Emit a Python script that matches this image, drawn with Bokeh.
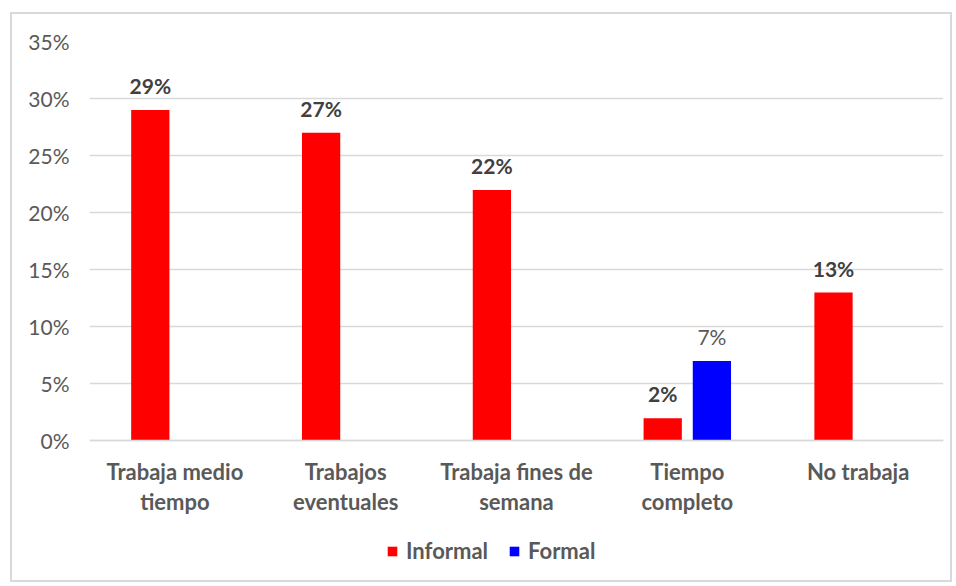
from bokeh.plotting import figure
from bokeh.models import ColumnDataSource, FactorRange, Range1d, Legend, LegendItem, PrintfTickFormatter, FixedTicker
from bokeh.transform import dodge
from bokeh.core.properties import value
from bokeh.embed import file_html
from bokeh.resources import INLINE

categories = ["Trabaja medio\ntiempo", "Trabajos\neventuales", "Trabaja fines de\nsemana", "Tiempo\ncompleto", "No trabaja"]
informal = [29, 27, 22, 2, 13]
formal = [0, 0, 0, 7, 0]
y_ticks = [0, 5, 10, 15, 20, 25, 30, 35]

FONT = "Lato"
GRAY = "#595959"
FS = "21px"

inf_src = ColumnDataSource(dict(cat=categories, val=informal, lab=[f"{v}%" for v in informal]))
fcats = [c for c, v in zip(categories, formal) if v > 0]
fvals = [v for v in formal if v > 0]
for_src = ColumnDataSource(dict(cat=fcats, val=fvals, lab=[f"{v}%" for v in fvals]))

# extra room below zero holds the category labels and the legend
p = figure(x_range=FactorRange(*categories), y_range=Range1d(-12.4, 35),
           width=942, height=570, output_backend="svg", toolbar_location=None,
           min_border_left=77, min_border_right=11, min_border_top=27, min_border_bottom=2)
p.styles = {"border": "2px solid #d9d9d9", "box-sizing": "border-box",
            "position": "relative", "left": "10px", "top": "12px"}
p.outline_line_color = None

off = 0.144
bw = 0.224
r1 = p.vbar(x=dodge("cat", -off, range=p.x_range), top="val", width=bw, source=inf_src,
            fill_color="#ff0000", line_color=None)
r2 = p.vbar(x=dodge("cat", off, range=p.x_range), top="val", width=bw, source=for_src,
            fill_color="#0000ff", line_color=None)

p.text(x=dodge("cat", -off, range=p.x_range), y="val", text="lab", source=inf_src,
       text_align="center", text_baseline="bottom", y_offset=-12,
       text_font=value(FONT), text_font_size=FS, text_font_style="bold", text_color="#404040")
p.text(x=dodge("cat", off, range=p.x_range), y="val", text="lab", source=for_src,
       text_align="center", text_baseline="bottom", y_offset=-12,
       text_font=value(FONT), text_font_size=FS, text_color=GRAY)

p.xgrid.grid_line_color = None
p.ygrid.grid_line_color = "#d9d9d9"
p.ygrid.grid_line_width = 1.5
p.ygrid.ticker = FixedTicker(ticks=y_ticks)

p.yaxis.ticker = FixedTicker(ticks=y_ticks)
p.yaxis.formatter = PrintfTickFormatter(format="%d%%")
p.yaxis.axis_line_color = None
p.yaxis.major_tick_line_color = None
p.yaxis.minor_tick_line_color = None
p.yaxis.major_label_standoff = 14
p.yaxis.major_label_text_font = FONT
p.yaxis.major_label_text_font_size = FS
p.yaxis.major_label_text_color = GRAY

p.xaxis.fixed_location = 0
p.xaxis.axis_line_color = "#d9d9d9"
p.xaxis.axis_line_width = 1.5
p.xaxis.major_tick_line_color = None
p.xaxis.minor_tick_line_color = None
p.xaxis.major_label_standoff = 11
p.xaxis.major_label_text_font = FONT
p.xaxis.major_label_text_font_size = "22px"
p.xaxis.major_label_text_font_style = "bold"
p.xaxis.major_label_text_color = GRAY
p.xaxis.major_label_text_line_height = 1.1

legend = Legend(items=[LegendItem(label="Informal", renderers=[r1]),
                       LegendItem(label="Formal", renderers=[r2])],
                orientation="horizontal", location=(297, 18),
                padding=0, margin=0, spacing=20, label_standoff=8,
                glyph_width=12, glyph_height=12,
                border_line_color=None, background_fill_alpha=0,
                label_text_font=FONT, label_text_font_size="22px",
                label_text_font_style="bold", label_text_color=GRAY)
p.add_layout(legend, "center")

open("out.html", "w").write(file_html(p, INLINE))
